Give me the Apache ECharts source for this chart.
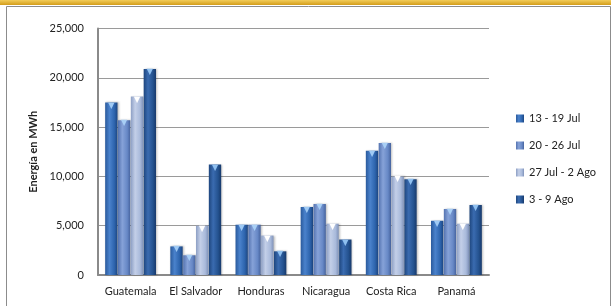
<!DOCTYPE html>
<html>
<head>
<meta charset="utf-8">
<script src="https://cdn.jsdelivr.net/npm/echarts@6/dist/echarts.min.js"></script>
<style>
  html, body { margin: 0; padding: 0; background: #fff; }
  #main { width: 611px; height: 306px; }
</style>
</head>
<body>
<div id="main"></div>
<script>
// datos
var paises = ['Guatemala', 'El Salvador', 'Honduras', 'Nicaragua', 'Costa Rica', 'Panamá'];
var semanas = ['13 - 19 Jul', '20 - 26 Jul', '27 Jul - 2 Ago', '3 - 9 Ago'];
var sem1 = [17500, 2900, 5100, 6900, 12600, 5500];
var sem2 = [15700, 2000, 5100, 7200, 13400, 6700];
var sem3 = [18100, 5000, 4000, 5200, 10000, 5200];
var sem4 = [20900, 11200, 2400, 3600, 9700, 7100];
var ejeY = [0, 5000, 10000, 15000, 20000, 25000];

var colores = [
    ['#2a5a9c', '#4a82cc', '#2d64ad', '#1c4580'],
    ['#5473b0', '#86a2d8', '#6788c6', '#46639e'],
    ['#8d9fc4', '#c3cfe8', '#a9badb', '#7f92b9'],
    ['#1e467e', '#3a6bb0', '#24528f', '#17396b']
];
var flechas = ['#9fcaf4', '#a8cff5', '#ffffff', '#8fc0f0'];

function relleno(c) {
    return new echarts.graphic.LinearGradient(0, 0, 1, 0, [
        {offset: 0, color: c[0]},
        {offset: 0.35, color: c[1]},
        {offset: 0.75, color: c[2]},
        {offset: 1, color: c[3]}
    ]);
}

var valores = [sem1, sem2, sem3, sem4];
var series = valores.map(function (v, i) {
    return {
        name: semanas[i],
        type: 'bar',
        data: v,
        barGap: '4%',
        barCategoryGap: '22%',
        itemStyle: {
            color: relleno(colores[i]),
            shadowColor: 'rgba(0,0,0,0.25)',
            shadowBlur: 2,
            shadowOffsetX: 1
        },
        label: {
            show: true,
            position: 'insideTop',
            distance: -1,
            formatter: '▼',
            fontFamily: 'DejaVu Sans',
            fontSize: 8,
            color: flechas[i]
        }
    };
});

var myChart = echarts.init(document.getElementById('main'));
myChart.setOption({
    animation: false,
    textStyle: {fontFamily: 'Lato'},
    color: ['#2d64ad', '#6788c6', '#a9badb', '#24528f'],
    graphic: [
        {
            type: 'rect', left: 0, top: 0, z: -1,
            shape: {width: 611, height: 5},
            style: {
                fill: new echarts.graphic.LinearGradient(0, 0, 0, 1, [
                    {offset: 0, color: '#f2cc5a'},
                    {offset: 1, color: '#d39d1a'}
                ])
            }
        },
        {
            type: 'rect', z: -1,
            shape: {x: 6.5, y: 6.5, width: 604, height: 320},
            style: {fill: '#fff', stroke: '#8c8c8c', lineWidth: 1}
        }
    ],
    grid: {left: 98, right: 122, top: 28.5, bottom: 31},
    legend: {
        orient: 'vertical',
        left: 516,
        top: 113,
        padding: 0,
        itemWidth: 8,
        itemHeight: 8,
        itemGap: 16,
        icon: 'rect',
        textStyle: {fontSize: 11, color: '#222', fontFamily: 'Lato'},
        data: semanas
    },
    xAxis: {
        type: 'category',
        data: paises,
        axisLine: {lineStyle: {color: '#8a8a8a', width: 2}},
        axisTick: {show: false},
        axisLabel: {interval: 0, fontSize: 11, color: '#222', margin: 11}
    },
    yAxis: {
        type: 'value',
        min: ejeY[0],
        max: ejeY[ejeY.length - 1],
        interval: 5000,
        name: 'Energía en MWh',
        nameLocation: 'middle',
        nameGap: 58,
        nameTextStyle: {fontSize: 11, fontWeight: 'bold', color: '#222'},
        axisLine: {show: true, lineStyle: {color: '#8a8a8a', width: 2}},
        axisTick: {show: false},
        axisLabel: {
            fontSize: 11, color: '#222', margin: 14,
            formatter: function (v) { return v === 0 ? '0' : v.toLocaleString('en-US'); }
        },
        splitLine: {lineStyle: {color: '#9a9a9a', width: 1}}
    },
    series: series
});
</script>
</body>
</html>
